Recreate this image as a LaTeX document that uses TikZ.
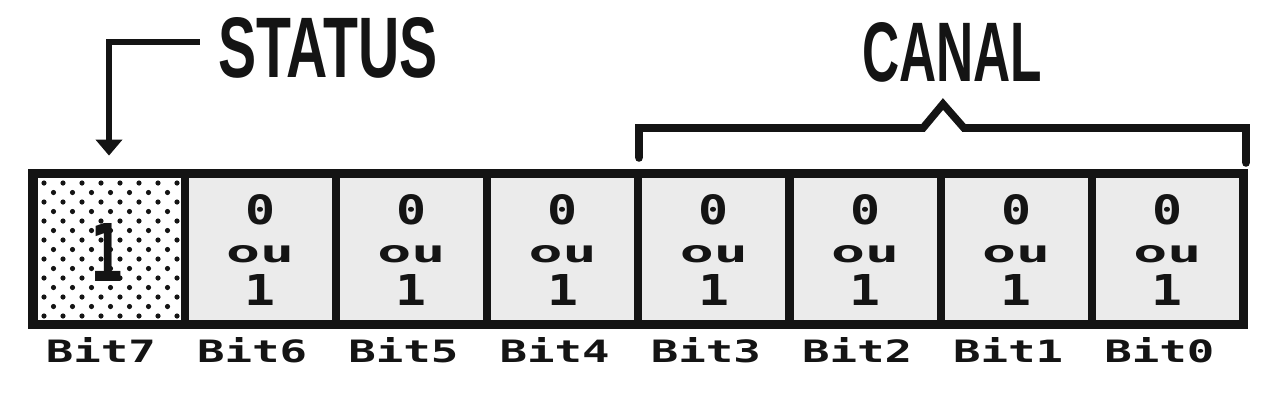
\documentclass[tikz,border=0pt]{standalone}
\usepackage{fontspec}
\usepackage{graphicx}
\usetikzlibrary{arrows.meta,backgrounds,fit}
\newfontfamily\pixfont{DejaVu Sans Mono}
\newfontfamily\headfont{Liberation Sans}
\definecolor{ink}{HTML}{141414}
\definecolor{cellgray}{HTML}{EBEBEB}
\newcommand\fitbox[3]{\resizebox{#1pt}{#2pt}{#3}}
\begin{document}
\begin{tikzpicture}[x=0.5pt,y=-0.5pt,
  cell/.style={fill=cellgray, draw=none, minimum width=71.5pt, minimum height=71pt, inner sep=0pt},
  txt/.style={inner sep=0pt, text=ink},
  bracket/.style={draw=ink, line width=3.8pt, line join=miter, line cap=round},
  pointer/.style={draw=ink, line width=3pt, line join=miter, -{Triangle[width=13pt,length=8pt]}}]
\useasboundingbox (0,0) rectangle (1280,402);
% cells
\foreach \i in {0,...,7}{
  \pgfmathsetmacro\cx{109+151.2*(7-\i)}
  \node[cell] (c\i) at (\cx,249) {};
  \node[txt] (l\i) at (\cx-8,350) {\fitbox{55}{12.5}{\pixfont\bfseries Bit\i}};
}
\foreach \i in {0,...,6}{
  \pgfmathsetmacro\cx{109+151.2*(7-\i)}
  \node[txt] (z\i) at (\cx,210) {\fitbox{15}{15}{\pixfont\bfseries 0}};
  \node[txt] (o\i) at (\cx,254) {\fitbox{34}{8.5}{\pixfont\bfseries ou}};
  \node[txt] (u\i) at (\cx,290) {\fitbox{15.5}{15.5}{\pixfont\bfseries 1}};
}
% status cell (dotted)
\node[cell, fill=white] (c7) at (109,249) {};
\begin{scope}
  \clip (c7.north west) rectangle (c7.south east);
  \foreach \k in {0,...,14}{
    \foreach \j in {0,...,7}{
      \fill[ink] ({44+19*\j+mod(\k,2)*9.5},{183+9.5*\k}) circle[radius=1.3pt];
    }
  }
\end{scope}
\node[txt] (b7) at (107,252) {\fitbox{16.5}{29}{\pixfont\bfseries 1}};
% frame
\begin{scope}[on background layer]
  \fill[white] (0,0) rectangle (1280,402);
  \node[fill=ink, inner sep=4.5pt, fit=(c7)(c0)] (reg) {};
\end{scope}
% STATUS
\node[txt] (status) at (328,48) {\fitbox{110}{30}{\headfont\bfseries STATUS}};
\draw[pointer] ([shift={(-9pt,3pt)}]status.west) -| ([yshift=11pt]c7.north);
% CANAL
\node[txt] (canal) at (952,52) {\fitbox{90}{29.5}{\headfont\bfseries CANAL}};
\coordinate (bl) at (639,158);
\coordinate (br) at (1246,163);
\coordinate (apex) at (943,104);
\draw[bracket] (bl) -- (639,128) -- (923,128) -- (apex) -- (964,128) -- (1246,128) -- (br);
\end{tikzpicture}
\end{document}
